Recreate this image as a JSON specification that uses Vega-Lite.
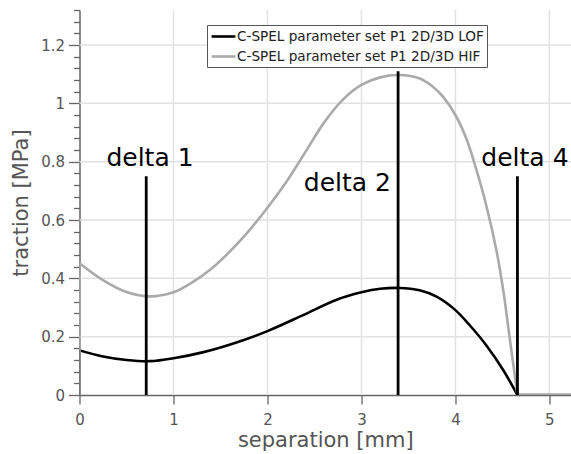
{
  "$schema": "https://vega.github.io/schema/vega-lite/v6.json",
  "width": 491.5,
  "height": 385,
  "autosize": {"type": "none"},
  "padding": {"left": 79.5, "top": 10, "right": 0, "bottom": 59},
  "config": {
    "font": "DejaVu Sans",
    "view": {"stroke": null},
    "axis": {
      "domainColor": "#666666",
      "domainWidth": 1.5,
      "tickColor": "#666666",
      "tickWidth": 1.3,
      "labelColor": "#555555",
      "labelFontSize": 15,
      "labelFlush": false,
      "labelOverlap": false,
      "titleColor": "#555555",
      "titleFontSize": 21,
      "titleFontWeight": "normal",
      "grid": false
    }
  },
  "datasets": {
    "gridX": [{"sep": 1}, {"sep": 2}, {"sep": 3}, {"sep": 4}, {"sep": 5}],
    "gridY": [{"traction": 0.2}, {"traction": 0.4}, {"traction": 0.6}, {"traction": 0.8}, {"traction": 1.0}, {"traction": 1.2}],
    "curves": [
      {"series": "C-SPEL parameter set P1 2D/3D LOF", "part": "rise", "sep": 0, "traction": 0},
      {"series": "C-SPEL parameter set P1 2D/3D LOF", "part": "rise", "sep": 0, "traction": 0.153},
      {"series": "C-SPEL parameter set P1 2D/3D LOF", "part": "curve", "sep": 0, "traction": 0.153},
      {"series": "C-SPEL parameter set P1 2D/3D LOF", "part": "curve", "sep": 0.25, "traction": 0.132},
      {"series": "C-SPEL parameter set P1 2D/3D LOF", "part": "curve", "sep": 0.5, "traction": 0.12},
      {"series": "C-SPEL parameter set P1 2D/3D LOF", "part": "curve", "sep": 0.75, "traction": 0.116},
      {"series": "C-SPEL parameter set P1 2D/3D LOF", "part": "curve", "sep": 1.0, "traction": 0.126},
      {"series": "C-SPEL parameter set P1 2D/3D LOF", "part": "curve", "sep": 1.32, "traction": 0.147},
      {"series": "C-SPEL parameter set P1 2D/3D LOF", "part": "curve", "sep": 1.67, "traction": 0.18},
      {"series": "C-SPEL parameter set P1 2D/3D LOF", "part": "curve", "sep": 2.0, "traction": 0.219},
      {"series": "C-SPEL parameter set P1 2D/3D LOF", "part": "curve", "sep": 2.38, "traction": 0.274},
      {"series": "C-SPEL parameter set P1 2D/3D LOF", "part": "curve", "sep": 2.73, "traction": 0.326},
      {"series": "C-SPEL parameter set P1 2D/3D LOF", "part": "curve", "sep": 3.0, "traction": 0.352},
      {"series": "C-SPEL parameter set P1 2D/3D LOF", "part": "curve", "sep": 3.2, "traction": 0.364},
      {"series": "C-SPEL parameter set P1 2D/3D LOF", "part": "curve", "sep": 3.4, "traction": 0.367},
      {"series": "C-SPEL parameter set P1 2D/3D LOF", "part": "curve", "sep": 3.62, "traction": 0.359},
      {"series": "C-SPEL parameter set P1 2D/3D LOF", "part": "curve", "sep": 3.8, "traction": 0.337},
      {"series": "C-SPEL parameter set P1 2D/3D LOF", "part": "curve", "sep": 4.0, "traction": 0.291},
      {"series": "C-SPEL parameter set P1 2D/3D LOF", "part": "curve", "sep": 4.15, "traction": 0.24},
      {"series": "C-SPEL parameter set P1 2D/3D LOF", "part": "curve", "sep": 4.33, "traction": 0.17},
      {"series": "C-SPEL parameter set P1 2D/3D LOF", "part": "curve", "sep": 4.51, "traction": 0.085},
      {"series": "C-SPEL parameter set P1 2D/3D LOF", "part": "curve", "sep": 4.66, "traction": 0},
      {"series": "C-SPEL parameter set P1 2D/3D LOF", "part": "tail", "sep": 4.66, "traction": 0},
      {"series": "C-SPEL parameter set P1 2D/3D LOF", "part": "tail", "sep": 5.3, "traction": 0},
      {"series": "C-SPEL parameter set P1 2D/3D HIF", "part": "rise", "sep": 0, "traction": 0},
      {"series": "C-SPEL parameter set P1 2D/3D HIF", "part": "rise", "sep": 0, "traction": 0.452},
      {"series": "C-SPEL parameter set P1 2D/3D HIF", "part": "curve", "sep": 0, "traction": 0.452},
      {"series": "C-SPEL parameter set P1 2D/3D HIF", "part": "curve", "sep": 0.25, "traction": 0.394},
      {"series": "C-SPEL parameter set P1 2D/3D HIF", "part": "curve", "sep": 0.5, "traction": 0.353},
      {"series": "C-SPEL parameter set P1 2D/3D HIF", "part": "curve", "sep": 0.75, "traction": 0.338},
      {"series": "C-SPEL parameter set P1 2D/3D HIF", "part": "curve", "sep": 1.0, "traction": 0.352},
      {"series": "C-SPEL parameter set P1 2D/3D HIF", "part": "curve", "sep": 1.2, "traction": 0.386},
      {"series": "C-SPEL parameter set P1 2D/3D HIF", "part": "curve", "sep": 1.4, "traction": 0.432},
      {"series": "C-SPEL parameter set P1 2D/3D HIF", "part": "curve", "sep": 1.6, "traction": 0.492},
      {"series": "C-SPEL parameter set P1 2D/3D HIF", "part": "curve", "sep": 1.8, "traction": 0.562},
      {"series": "C-SPEL parameter set P1 2D/3D HIF", "part": "curve", "sep": 2.0, "traction": 0.642},
      {"series": "C-SPEL parameter set P1 2D/3D HIF", "part": "curve", "sep": 2.2, "traction": 0.73},
      {"series": "C-SPEL parameter set P1 2D/3D HIF", "part": "curve", "sep": 2.4, "traction": 0.831},
      {"series": "C-SPEL parameter set P1 2D/3D HIF", "part": "curve", "sep": 2.6, "traction": 0.933},
      {"series": "C-SPEL parameter set P1 2D/3D HIF", "part": "curve", "sep": 2.8, "traction": 1.012},
      {"series": "C-SPEL parameter set P1 2D/3D HIF", "part": "curve", "sep": 3.0, "traction": 1.063},
      {"series": "C-SPEL parameter set P1 2D/3D HIF", "part": "curve", "sep": 3.2, "traction": 1.089},
      {"series": "C-SPEL parameter set P1 2D/3D HIF", "part": "curve", "sep": 3.4, "traction": 1.097},
      {"series": "C-SPEL parameter set P1 2D/3D HIF", "part": "curve", "sep": 3.62, "traction": 1.085},
      {"series": "C-SPEL parameter set P1 2D/3D HIF", "part": "curve", "sep": 3.76, "traction": 1.057},
      {"series": "C-SPEL parameter set P1 2D/3D HIF", "part": "curve", "sep": 3.87, "traction": 1.022},
      {"series": "C-SPEL parameter set P1 2D/3D HIF", "part": "curve", "sep": 4.0, "traction": 0.96},
      {"series": "C-SPEL parameter set P1 2D/3D HIF", "part": "curve", "sep": 4.12, "traction": 0.876},
      {"series": "C-SPEL parameter set P1 2D/3D HIF", "part": "curve", "sep": 4.22, "traction": 0.776},
      {"series": "C-SPEL parameter set P1 2D/3D HIF", "part": "curve", "sep": 4.33, "traction": 0.648},
      {"series": "C-SPEL parameter set P1 2D/3D HIF", "part": "curve", "sep": 4.44, "traction": 0.49},
      {"series": "C-SPEL parameter set P1 2D/3D HIF", "part": "curve", "sep": 4.51, "traction": 0.357},
      {"series": "C-SPEL parameter set P1 2D/3D HIF", "part": "curve", "sep": 4.58, "traction": 0.19},
      {"series": "C-SPEL parameter set P1 2D/3D HIF", "part": "curve", "sep": 4.66, "traction": 0},
      {"series": "C-SPEL parameter set P1 2D/3D HIF", "part": "tail", "sep": 4.66, "traction": 0},
      {"series": "C-SPEL parameter set P1 2D/3D HIF", "part": "tail", "sep": 5.3, "traction": 0}
    ],
    "deltas": [
      {"label": "delta 1", "sep": 0.71, "top": 0.75, "labelSep": 0.75, "labelTraction": 0.785},
      {"label": "delta 2", "sep": 3.39, "top": 1.11, "labelSep": 2.85, "labelTraction": 0.7},
      {"label": "delta 4", "sep": 4.66, "top": 0.75, "labelSep": 4.74, "labelTraction": 0.785}
    ]
  },
  "resolve": {"axis": {"y": "independent"}},
  "layer": [
    {
      "data": {"name": "gridX"},
      "mark": {"type": "rule", "color": "#e2e2e2", "strokeWidth": 1.5},
      "encoding": {
        "x": {"field": "sep", "type": "quantitative"}
      }
    },
    {
      "data": {"name": "gridY"},
      "mark": {"type": "rule", "color": "#e2e2e2", "strokeWidth": 1.5},
      "encoding": {
        "y": {"field": "traction", "type": "quantitative", "axis": null}
      }
    },
    {
      "data": {"name": "curves"},
      "mark": {"type": "line", "interpolate": "catmull-rom", "strokeWidth": 2.6, "clip": true},
      "encoding": {
        "x": {
          "field": "sep",
          "type": "quantitative",
          "scale": {"domain": [0, 5.23], "nice": false, "zero": false},
          "axis": {
            "title": "separation [mm]",
            "values": [0, 1, 2, 3, 4, 5],
            "format": "d",
            "tickSize": 9,
            "labelPadding": 8,
            "titlePadding": 2
          }
        },
        "y": {
          "field": "traction",
          "type": "quantitative",
          "scale": {"domain": [0, 1.32], "nice": false},
          "axis": {
            "title": "traction [MPa]",
            "orient": "left",
            "values": [0, 0.2, 0.4, 0.6, 0.8, 1, 1.2],
            "format": "~g",
            "tickSize": 11,
            "labelPadding": 4,
            "titlePadding": 9
          }
        },
        "color": {
          "field": "series",
          "type": "nominal",
          "scale": {
            "domain": ["C-SPEL parameter set P1 2D/3D LOF", "C-SPEL parameter set P1 2D/3D HIF"],
            "range": ["#000000", "#aaaaaa"]
          },
          "legend": {
            "title": null,
            "orient": "none",
            "legendX": 127.5,
            "legendY": 15,
            "symbolType": "M-1.7,0H1.7",
            "symbolSize": 196,
            "symbolStrokeWidth": 2.6,
            "symbolOffset": 5,
            "labelOffset": 5,
            "labelFontSize": 13.6,
            "labelColor": "#222222",
            "labelLimit": 0,
            "strokeColor": "#555555",
            "fillColor": "#ffffff",
            "padding": 3,
            "rowPadding": 4
          }
        },
        "detail": {"field": "part", "type": "nominal"}
      }
    },
    {
      "data": {"name": "deltas"},
      "mark": {"type": "rule", "color": "#000000", "strokeWidth": 2.8},
      "encoding": {
        "x": {"field": "sep", "type": "quantitative"},
        "y": {
          "field": "top",
          "type": "quantitative",
          "axis": {
            "orient": "left",
            "title": null,
            "labels": false,
            "domain": false,
            "tickSize": 6,
            "values": [0.04, 0.08, 0.12, 0.16, 0.24, 0.28, 0.32, 0.36, 0.44, 0.48, 0.52, 0.56, 0.64, 0.68, 0.72, 0.76, 0.84, 0.88, 0.92, 0.96, 1.04, 1.08, 1.12, 1.16, 1.24, 1.28, 1.32]
          }
        },
        "y2": {"datum": 0}
      }
    },
    {
      "data": {"name": "deltas"},
      "mark": {"type": "text", "fontSize": 25, "color": "#000000", "align": "center", "baseline": "alphabetic"},
      "encoding": {
        "x": {"field": "labelSep", "type": "quantitative"},
        "y": {"field": "labelTraction", "type": "quantitative", "axis": null},
        "text": {"field": "label", "type": "nominal"}
      }
    }
  ]
}
